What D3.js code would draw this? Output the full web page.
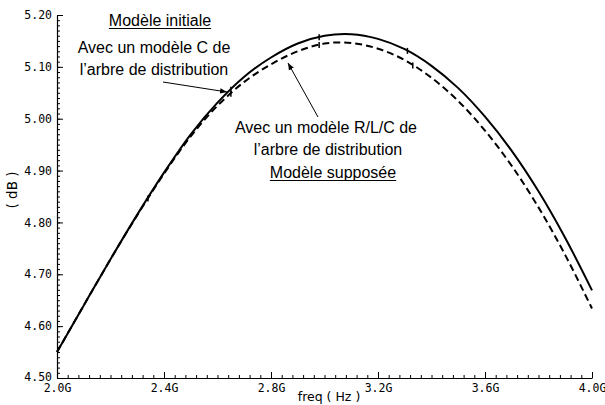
<!DOCTYPE html>
<html>
<head>
<meta charset="utf-8">
<script src="https://cdn.jsdelivr.net/npm/d3@7"></script>
<style>
  html, body { margin: 0; padding: 0; background: #fff; }
  svg { display: block; }
</style>
</head>
<body>
<svg id="chart" width="605" height="405"></svg>
<script>
// ---- data ----
const freqs = [2.0, 2.1, 2.2, 2.3, 2.4, 2.5, 2.6, 2.7, 2.8, 2.9, 3.0,
               3.1, 3.2, 3.3, 3.4, 3.5, 3.6, 3.7, 3.8, 3.9, 4.0];
// "Modèle initiale" (solid)
const initialDb = [4.550, 4.640, 4.729, 4.815, 4.896, 4.970, 5.031, 5.081, 5.118, 5.145, 5.160,
                   5.163, 5.154, 5.134, 5.102, 5.059, 5.004, 4.938, 4.860, 4.770, 4.669];
// "Modèle supposée" (dashed)
const supposedDb = [4.550, 4.640, 4.729, 4.814, 4.894, 4.966, 5.025, 5.071, 5.105, 5.130, 5.145,
                    5.146, 5.135, 5.113, 5.079, 5.034, 4.977, 4.909, 4.829, 4.737, 4.634];
const markerInitial = [2.65, 2.98, 3.31];
const markerSupposed = [2.34, 2.65, 2.98, 3.33];
const yTickValues = [4.5, 4.6, 4.7, 4.8, 4.9, 5.0, 5.1, 5.2];
const yTickLabels = ["4.50", "4.60", "4.70", "4.80", "4.90", "5.00", "5.10", "5.20"];
const xTickValues = [2.0, 2.4, 2.8, 3.2, 3.6, 4.0];
const xTickLabels = ["2.0G", "2.4G", "2.8G", "3.2G", "3.6G", "4.0G"];
const xTitle = "freq ( Hz )";
const yTitle = "( dB )";

const svg = d3.select("#chart");
const x = d3.scaleLinear().domain([2.0, 4.0]).range([57, 592]);
const y = d3.scaleLinear().domain([4.5, 5.2]).range([378, 15]);

const monoFont = "'DejaVu Sans Mono', monospace";
const sansFont = "'Liberation Sans', Arial, sans-serif";

// minor ticks
const xMinor = d3.range(0, 51).map(i => 2.0 + i * 0.04);
const yMinor = d3.range(0, 71).map(i => 4.5 + i * 0.01);

svg.append("g").attr("transform", "translate(0,378)")
  .call(d3.axisBottom(x).tickValues(xMinor).tickSize(-3).tickSizeOuter(0).tickFormat(""))
  .call(g => g.select(".domain").remove())
  .selectAll("line").attr("stroke", "#000");
svg.append("g").attr("transform", "translate(57,0)")
  .call(d3.axisLeft(y).tickValues(yMinor).tickSize(-3).tickSizeOuter(0).tickFormat(""))
  .call(g => g.select(".domain").remove())
  .selectAll("line").attr("stroke", "#000");

// major axes
const xAxis = svg.append("g").attr("transform", "translate(0,378)")
  .call(d3.axisBottom(x).tickValues(xTickValues).tickSize(-6).tickSizeOuter(0).tickPadding(5)
    .tickFormat((d, i) => xTickLabels[i]));
xAxis.select(".domain").attr("stroke", "#000").attr("stroke-width", 1.2);
xAxis.selectAll("text").attr("font-family", monoFont).attr("font-size", "11.5px").attr("fill", "#000")
  .attr("dy", "0.78em");

const yAxis = svg.append("g").attr("transform", "translate(57,0)")
  .call(d3.axisLeft(y).tickValues(yTickValues).tickSize(-6).tickSizeOuter(0).tickPadding(5)
    .tickFormat((d, i) => yTickLabels[i]));
yAxis.select(".domain").attr("stroke", "#000").attr("stroke-width", 1.2);
yAxis.selectAll("text").attr("font-family", monoFont).attr("font-size", "11.5px").attr("fill", "#000")
  .attr("dy", d => d === 4.5 ? "0.22em" : "0.32em");

// axis titles
svg.append("text").attr("x", 329).attr("y", 401).attr("text-anchor", "middle")
  .attr("font-family", "'DejaVu Sans', sans-serif").attr("font-size", "12.5px").text(xTitle);
svg.append("text").attr("transform", "translate(17,190) rotate(-90)").attr("text-anchor", "middle")
  .attr("font-family", "'DejaVu Sans', sans-serif").attr("font-size", "13.5px").text(yTitle);

// curves
const lineGen = d3.line().x(d => x(d[0])).y(d => y(d[1])).curve(d3.curveCatmullRom.alpha(0.5));
const solidData = freqs.map((f, i) => [f, initialDb[i]]);
const dashedData = freqs.map((f, i) => [f, supposedDb[i]]);

svg.append("path").datum(dashedData).attr("d", lineGen)
  .attr("fill", "none").attr("stroke", "#000").attr("stroke-width", 2).attr("stroke-dasharray", "7,4");
svg.append("path").datum(solidData).attr("d", lineGen)
  .attr("fill", "none").attr("stroke", "#000").attr("stroke-width", 2);

// small markers on the curves
function interp(arr, f) {
  const i = Math.min(freqs.length - 2, Math.floor((f - 2.0) / 0.1 + 1e-9));
  const t = (f - freqs[i]) / (freqs[i + 1] - freqs[i]);
  return arr[i] + t * (arr[i + 1] - arr[i]);
}
svg.append("g").selectAll("line").data(markerInitial).join("line")
  .attr("x1", d => x(d)).attr("x2", d => x(d))
  .attr("y1", d => y(interp(initialDb, d)) - 3).attr("y2", d => y(interp(initialDb, d)) + 3)
  .attr("stroke", "#000").attr("stroke-width", 1.5);
svg.append("g").selectAll("line").data(markerSupposed).join("line")
  .attr("x1", d => x(d)).attr("x2", d => x(d))
  .attr("y1", d => y(interp(supposedDb, d)) - 3).attr("y2", d => y(interp(supposedDb, d)) + 3)
  .attr("stroke", "#000").attr("stroke-width", 1.5);

// annotations
svg.append("defs").append("marker").attr("id", "ah").attr("viewBox", "0 0 10 10")
  .attr("refX", 10).attr("refY", 5).attr("markerWidth", 7).attr("markerHeight", 7)
  .attr("orient", "auto-start-reverse").attr("markerUnits", "userSpaceOnUse")
  .append("path").attr("d", "M0,1 L10,5 L0,9 Z").attr("fill", "#000");

function textLine(xc, yb, str, underline) {
  const t = svg.append("text").attr("x", xc).attr("y", yb).attr("text-anchor", "middle")
    .attr("font-family", sansFont).attr("font-size", "16px").attr("fill", "#000").text(str);
  if (underline) {
    const w = t.node().getComputedTextLength();
    svg.append("line").attr("x1", xc - w / 2).attr("x2", xc + w / 2)
      .attr("y1", yb + 2.5).attr("y2", yb + 2.5).attr("stroke", "#000").attr("stroke-width", 1);
  }
}
textLine(160, 26, "Modèle initiale", true);
textLine(154, 53, "Avec un modèle C de", false);
textLine(154, 75, "l’arbre de distribution", false);

textLine(326, 133, "Avec un modèle R/L/C de", false);
textLine(328, 155, "l’arbre de distribution", false);
textLine(333, 178, "Modèle supposée", true);

svg.append("line").attr("x1", 163).attr("y1", 82).attr("x2", 227).attr("y2", 92)
  .attr("stroke", "#000").attr("stroke-width", 1).attr("marker-end", "url(#ah)");
svg.append("line").attr("x1", 318).attr("y1", 117).attr("x2", 288).attr("y2", 63)
  .attr("stroke", "#000").attr("stroke-width", 1).attr("marker-end", "url(#ah)");
</script>
</body>
</html>
